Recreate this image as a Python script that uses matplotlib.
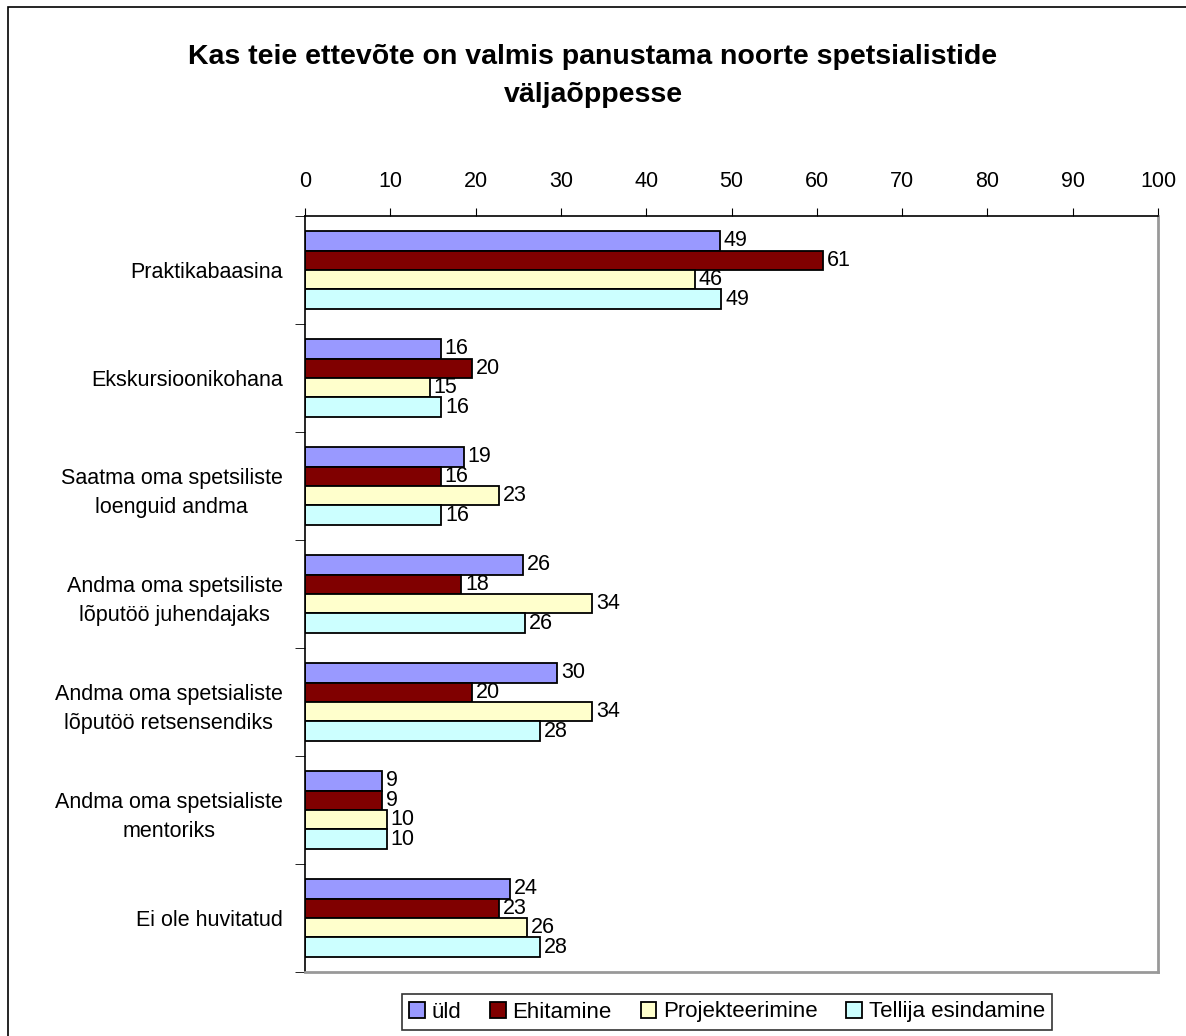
import numpy as np
import matplotlib.pyplot as plt
from matplotlib.patches import Rectangle

plt.rcParams['font.family'] = ['Liberation Sans', 'DejaVu Sans']

categories = ["Praktikabaasina", "Ekskursioonikohana", "Saatma oma spetsiliste\nloenguid andma",
              "Andma oma spetsiliste\nlõputöö juhendajaks", "Andma oma spetsialiste\nlõputöö retsensendiks",
              "Andma oma spetsialiste\nmentoriks", "Ei ole huvitatud"]
series_names = ["üld", "Ehitamine", "Projekteerimine", "Tellija esindamine"]
uld = [48.6, 15.9, 18.6, 25.6, 29.6, 9.0, 24.0]
ehitamine = [60.7, 19.6, 15.9, 18.3, 19.6, 9.0, 22.7]
projekteerimine = [45.7, 14.6, 22.8, 33.7, 33.7, 9.6, 26.0]
tellija = [48.8, 16.0, 16.0, 25.8, 27.6, 9.6, 27.6]
colors = ["#9999ff", "#800000", "#ffffcc", "#ccffff"]

fs = 15.5
fig = plt.figure(figsize=(11.86, 10.36), dpi=100)
ax = fig.add_axes([305 / 1186, 1 - 972 / 1036, (1158 - 305) / 1186, (972 - 216) / 1036])

h = 0.18
y = np.arange(len(categories))
for i, (vals, name) in enumerate(zip([uld, ehitamine, projekteerimine, tellija], series_names)):
    pos = y + (i - 1.5) * h
    bars = ax.barh(pos, vals, height=h, color=colors[i], edgecolor="black", linewidth=1.3, label=name)
    for b, v in zip(bars, vals):
        ax.text(b.get_width() + 0.45, b.get_y() + h / 2, f"{v:.0f}", va="center", ha="left", fontsize=fs)

ax.set_xlim(0, 100)
ax.set_ylim(len(categories) - 0.5, -0.5)
ax.xaxis.tick_top()
ax.set_xticks(range(0, 101, 10))
ax.tick_params(axis="x", labelsize=fs, length=6, direction="out", pad=11)
ax.set_yticks(y)
ax.set_yticklabels(categories, fontsize=fs, ha="right", multialignment="center", linespacing=1.5)
ax.tick_params(axis="y", length=0, pad=16)
ax.set_yticks(np.arange(-0.5, len(categories)), minor=True)
ax.tick_params(axis="y", which="minor", length=7, direction="out")
for s in ["right", "bottom"]:
    ax.spines[s].set_color("#999999")
    ax.spines[s].set_linewidth(2)
ax.spines["top"].set_linewidth(1.2)
ax.spines["left"].set_linewidth(1.2)

fig.text(0.5, 1 - 76 / 1036, "Kas teie ettevõte on valmis panustama noorte spetsialistide\nväljaõppesse",
         ha="center", va="center", fontsize=20.5, fontweight="bold", linespacing=1.55)

leg = fig.legend(loc="center", bbox_to_anchor=(727 / 1186, 1 - 1012 / 1036), ncol=4, fontsize=16,
                 frameon=True, fancybox=False, edgecolor="black", handlelength=0.7, handleheight=0.7,
                 handletextpad=0.3, columnspacing=1.3, borderpad=0.35)
leg.get_frame().set_linewidth(1.2)

fig.patches.append(Rectangle((8 / 1186, -0.1), 1.2, 1.1 - 7 / 1036, transform=fig.transFigure,
                             fill=False, edgecolor="black", linewidth=1.2))

fig.savefig("out.png", dpi=100, facecolor="white")
